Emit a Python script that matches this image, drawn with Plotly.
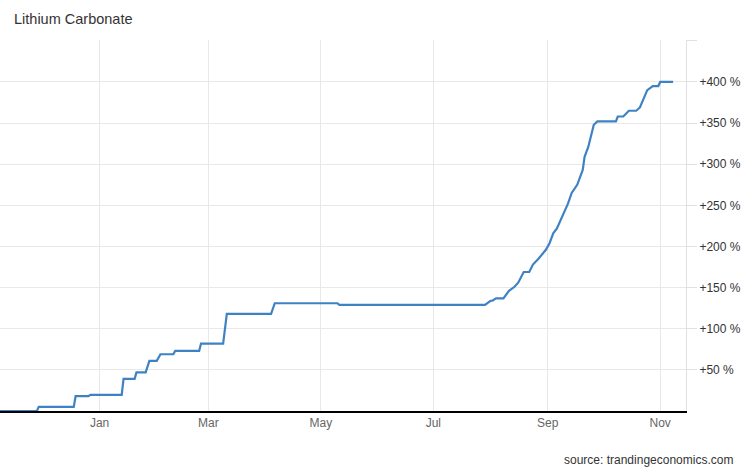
import plotly.graph_objects as go

# vertices of the price path (% change vs start)
dates = [
    "2020-11-06", "2020-11-28", "2020-11-29", "2020-12-18", "2020-12-19",
    "2020-12-26", "2020-12-27", "2021-01-13", "2021-01-14", "2021-01-20",
    "2021-01-21", "2021-01-26", "2021-01-28", "2021-02-01", "2021-02-03",
    "2021-02-10", "2021-02-11", "2021-02-24", "2021-02-25", "2021-03-09",
    "2021-03-11", "2021-04-04", "2021-04-06", "2021-05-10", "2021-05-11",
    "2021-07-29", "2021-08-01", "2021-08-02", "2021-08-04", "2021-08-08",
    "2021-08-11", "2021-08-14", "2021-08-16", "2021-08-19", "2021-08-22",
    "2021-08-24", "2021-08-27", "2021-08-29", "2021-08-31", "2021-09-02",
    "2021-09-04", "2021-09-06", "2021-09-08", "2021-09-12", "2021-09-14",
    "2021-09-17", "2021-09-20", "2021-09-21", "2021-09-23", "2021-09-25",
    "2021-09-26", "2021-09-28", "2021-10-08", "2021-10-09", "2021-10-12",
    "2021-10-15", "2021-10-19", "2021-10-21", "2021-10-22", "2021-10-25",
    "2021-10-28", "2021-10-31", "2021-11-01", "2021-11-08",
]
change_pct = [
    0, 0, 5, 5, 18,
    18, 19.5, 19.5, 39, 39,
    47, 47, 61, 61, 69,
    69, 73, 73, 82, 82,
    118, 118, 131, 131, 129,
    129, 134, 134, 137, 137,
    146, 151, 156, 169, 169,
    178, 185, 190, 196, 204,
    216, 222, 232, 252, 265,
    275, 293, 309, 321, 340,
    348, 352, 352, 358, 358,
    365, 365, 369, 374, 390,
    395, 395, 400, 400,
]

y_ticks = [50, 100, 150, 200, 250, 300, 350, 400, 450]
y_labels = ["+50 %", "+100 %", "+150 %", "+200 %", "+250 %", "+300 %", "+350 %", "+400 %", ""]
x_ticks = ["2021-01-01", "2021-03-01", "2021-05-01", "2021-07-01", "2021-09-01", "2021-11-01"]
x_labels = ["Jan", "Mar", "May", "Jul", "Sep", "Nov"]

font = "Liberation Sans, Arial"

fig = go.Figure()
fig.add_trace(go.Scatter(x=dates, y=change_pct, mode="lines",
                         line=dict(color="#3f82c4", width=2.2), showlegend=False))

fig.update_xaxes(range=["2020-11-08", "2021-11-15"], tickmode="array",
                 tickvals=x_ticks, ticktext=x_labels, automargin=False,
                 showgrid=True, gridcolor="#e8e8e8", gridwidth=1,
                 showline=True, linecolor="black", linewidth=1.5,
                 ticks="", tickfont=dict(family=font, size=12, color="#666"),
                 zeroline=False)
fig.update_yaxes(range=[0, 451], side="right", tickmode="array",
                 tickvals=y_ticks, ticktext=y_labels, automargin=False,
                 showgrid=True, gridcolor="#e8e8e8", gridwidth=1,
                 showline=True, linecolor="#e0e0e0", linewidth=1,
                 ticks="outside", ticklen=10, tickcolor="#e0e0e0",
                 tickfont=dict(family=font, size=12, color="#333"),
                 zeroline=False)

fig.update_layout(
    width=746, height=468,
    margin=dict(l=0, r=60, t=40, b=57, autoexpand=False),
    plot_bgcolor="white", paper_bgcolor="white",
    annotations=[
        dict(text="Lithium Carbonate", xref="paper", yref="paper",
             x=0.017, y=1.057, xanchor="left", yanchor="middle", showarrow=False,
             font=dict(family=font, size=14.5, color="#333")),
        dict(text="source: trandingeconomics.com", xref="paper", yref="paper",
             x=1.0714, y=-0.132, xanchor="right", yanchor="middle", showarrow=False,
             font=dict(family=font, size=12, color="#333")),
    ],
)

# the page has a default body margin; drop it so the figure sits at the corner
fig.write_html("out.html", config={"displayModeBar": False},
               post_script="document.body.style.margin='0';")
